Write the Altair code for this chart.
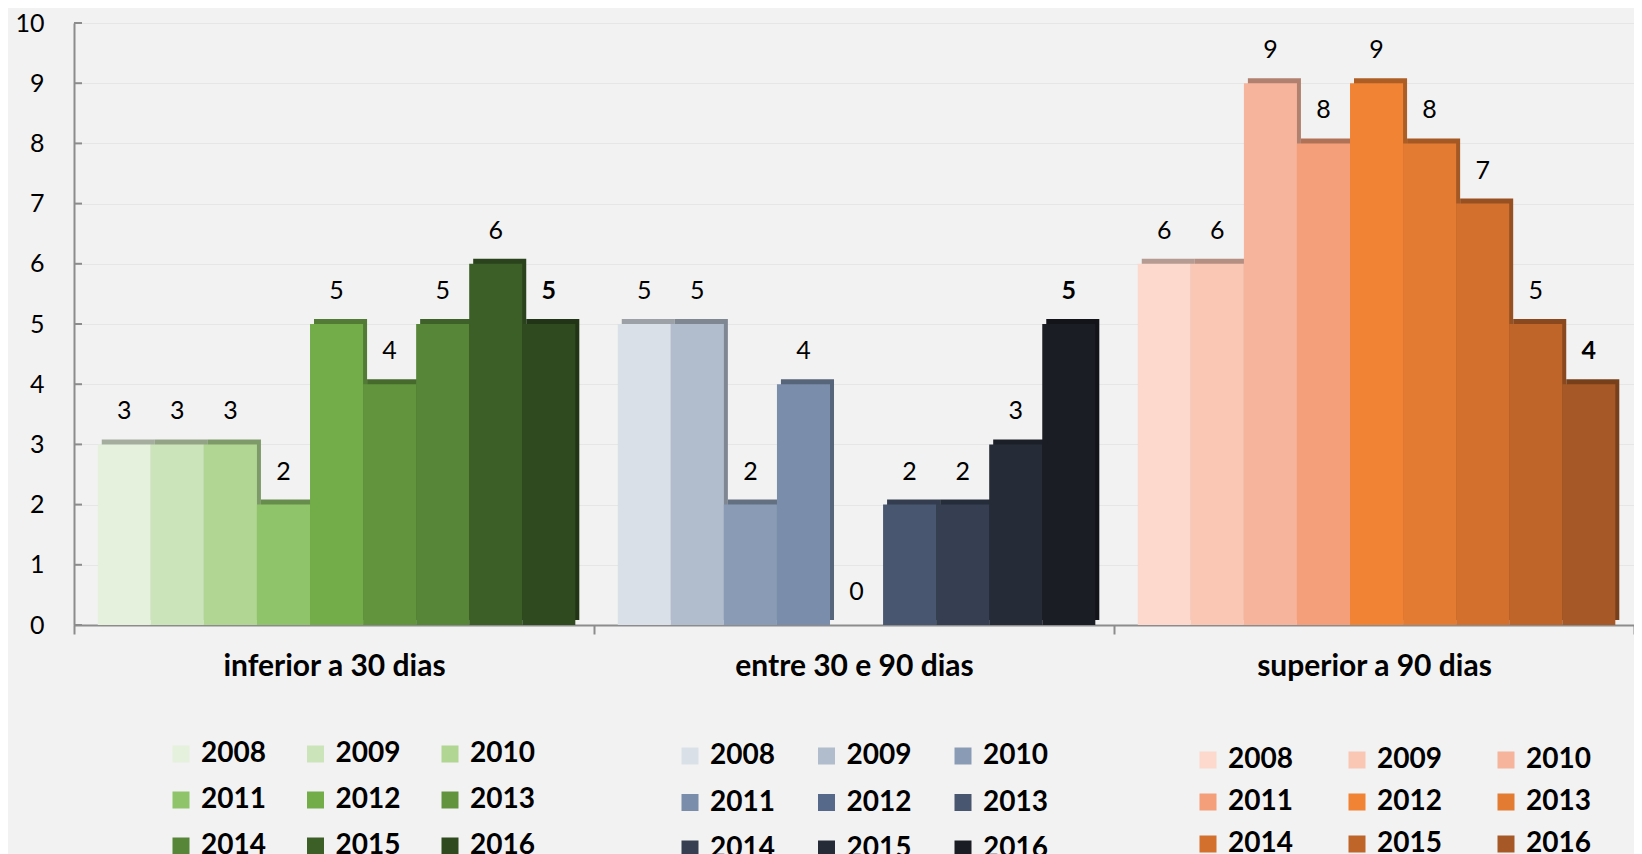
import altair as alt
import pandas as pd

categories = ["inferior a 30 dias", "entre 30 e 90 dias", "superior a 90 dias"]
years = ["2008", "2009", "2010", "2011", "2012", "2013", "2014", "2015", "2016"]
inferior = [3, 3, 3, 2, 5, 4, 5, 6, 5]
entre = [5, 5, 2, 4, 0, 2, 2, 3, 5]
superior = [6, 6, 9, 8, 9, 8, 7, 5, 4]
y_ticks = [0, 1, 2, 3, 4, 5, 6, 7, 8, 9, 10]

greens = ["#e5f1dc", "#cce4b9", "#b1d693", "#8fc46a", "#72ad4a", "#62943e", "#578639", "#3c5e27", "#2f4a1f"]
blues = ["#dae0e8", "#b1bccd", "#8a9cb5", "#7a8dab", "#56698a", "#48566f", "#353f51", "#262c37", "#1a1d23"]
oranges = ["#fdd8cc", "#fac7b5", "#f7b49c", "#f49f7a", "#f08334", "#e47b32", "#d3702e", "#c0652a", "#a65926"]


def shade(h, f=0.72):
    r, g, b = int(h[1:3], 16), int(h[3:5], 16), int(h[5:7], 16)
    return "#%02x%02x%02x" % (int(r * f), int(g * f), int(b * f))


rows = []
for cat, vals in zip(categories, [inferior, entre, superior]):
    for yr, v in zip(years, vals):
        rows.append({"category": cat, "year": yr, "value": v})
df = pd.DataFrame(rows)
ticks_df = pd.DataFrame({"value": y_ticks})

FONT = "Lato"
W, H = 1560, 602
AXIS_GRAY = "#8c8c8c"

x_enc = alt.X(
    "category:N",
    scale=alt.Scale(domain=categories, paddingInner=0, paddingOuter=0),
    axis=alt.Axis(
        title=None, labelFontSize=30, labelFontWeight="bold", labelColor="black",
        labelFont=FONT, tickBand="extent", tickSize=9, tickColor=AXIS_GRAY, tickWidth=2,
        domainColor=AXIS_GRAY, domainWidth=2, labelPadding=17, labelAngle=0, grid=False,
        labelLimit=0,
    ),
)


def xo(align=0.56):
    return alt.XOffset(
        "year:N",
        scale=alt.Scale(type="band", domain=years, paddingInner=0, paddingOuter=0.4, align=align),
    )


y_enc = alt.Y(
    "value:Q",
    scale=alt.Scale(domain=[0, 10], nice=False),
    axis=alt.Axis(
        title=None, values=y_ticks, labelFontSize=25, labelFont=FONT, labelColor="black",
        ticks=False, labelPadding=30, domainColor=AXIS_GRAY, domainWidth=2,
        gridColor="#e6e6e6", gridWidth=1,
    ),
)

legend_pos = [
    dict(legendX=93, legendY=717, columnPadding=35.5, rowPadding=18),
    dict(legendX=602, legendY=719, columnPadding=37.5, rowPadding=18.5),
    dict(legendX=1120, legendY=723, columnPadding=50, rowPadding=14),
]
palettes = [greens, blues, oranges]

base = alt.Chart(df)
shadows = []
mains = []
for cat, pal, lp in zip(categories, palettes, legend_pos):
    sub = base.transform_filter(alt.datum.category == cat)
    shadows.append(
        sub.mark_bar(yOffset=-5, y2Offset=2).encode(
            x=x_enc, xOffset=xo(0.654), y=y_enc,
            color=alt.Color("year:N", scale=alt.Scale(domain=years, range=[shade(c) for c in pal]), legend=None),
        )
    )
    mains.append(
        sub.mark_bar().encode(
            x=x_enc, xOffset=xo(), y=y_enc,
            color=alt.Color(
                "year:N",
                scale=alt.Scale(domain=years, range=pal),
                legend=alt.Legend(
                    title=None, orient="none", columns=3, direction="horizontal",
                    symbolType="square", symbolSize=289,
                    symbolStrokeWidth=0, labelFontSize=28, labelFont=FONT, labelFontWeight="bold",
                    labelColor="black", labelOffset=6, gridAlign="all", padding=0, **lp,
                ),
            ),
        )
    )

labels_regular = base.transform_filter(alt.datum.year != "2016").mark_text(
    font=FONT, fontSize=25, color="black", baseline="middle", dy=-33
).encode(x=x_enc, xOffset=xo(), y=y_enc, text="value:Q")
labels_bold = base.transform_filter(alt.datum.year == "2016").mark_text(
    font=FONT, fontSize=25, fontWeight="bold", color="black", baseline="middle", dy=-33
).encode(x=x_enc, xOffset=xo(), y=y_enc, text="value:Q")

inner_ticks = alt.Chart(ticks_df).mark_rule(color=AXIS_GRAY, strokeWidth=2).encode(
    x=alt.value(0), x2=alt.value(8), y=y_enc
)

chart = (
    alt.layer(*shadows, *mains, labels_regular, labels_bold, inner_ticks)
    .resolve_scale(color="independent", xOffset="independent")
    .properties(
        width=W, height=H,
        autosize=alt.AutoSizeParams(type="none"),
        padding={"left": 66, "top": 15, "right": 0, "bottom": 229},
        background="#f2f2f2",
    )
    .configure_view(stroke=None)
)

chart.save("out.html", embed_options={"renderer": "svg", "actions": False})
